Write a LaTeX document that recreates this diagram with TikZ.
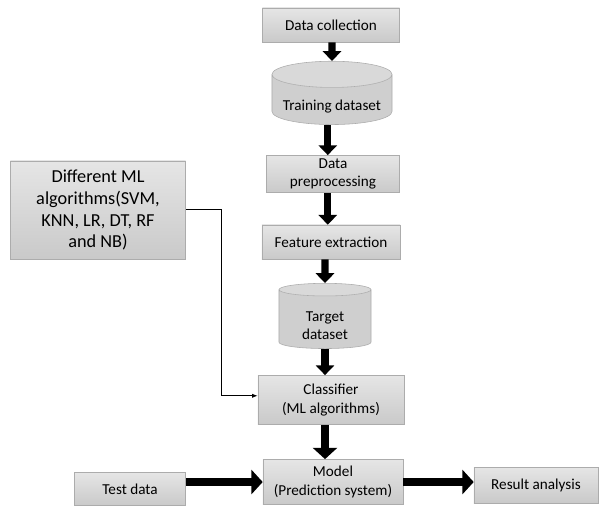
\documentclass[tikz,border=0pt]{standalone}
\usepackage{fontspec}
\setmainfont{Carlito}
\usetikzlibrary{shapes.geometric,arrows.meta}
\begin{document}
\begin{tikzpicture}[x=0.025cm,y=-0.025cm,
    box/.style={draw=gray!65,top color=gray!20,bottom color=gray!42,align=center,
      inner sep=1pt,font=\fontsize{10.8}{13}\selectfont},
    db/.style={cylinder,shape border rotate=90,aspect=0.26,draw=gray!65,
      cylinder uses custom fill,cylinder body fill=gray!38,cylinder end fill=gray!30,
      align=center,inner sep=1pt,font=\fontsize{10.8}{13}\selectfont},
    flow/.style={-{Triangle[length=7pt,width=13pt]},line width=5pt},
    wide/.style={-{Triangle[length=8pt,width=17pt]},line width=6pt}]
  \useasboundingbox (0,0) rectangle (603,506);
  \node[box,minimum width=3.43cm,minimum height=0.85cm] (collect) at (331,25) {Data collection};
  \node[db,minimum width=3cm,minimum height=1.5cm] (train) at (332,101) {\\[2pt]Training dataset};
  \node[box,minimum width=3.33cm,minimum height=0.93cm] (prep) at (333,174) {Data\\preprocessing};
  \node[box,minimum width=3.45cm,minimum height=0.85cm] (feat) at (331,242) {Feature extraction};
  \node[db,minimum width=2.3cm,minimum height=1.63cm] (target) at (325,320) {\\[2pt]Target\\dataset};
  \node[box,minimum width=3.65cm,minimum height=1.23cm] (classify) at (331,400) {Classifier\\(ML algorithms)};
  \node[box,minimum width=3.5cm,minimum height=1.13cm] (model) at (333,482) {Model\\(Prediction system)};
  \node[box,minimum width=2.78cm,minimum height=0.83cm] (test) at (130,489) {Test data};
  \node[box,minimum width=3.1cm,minimum height=0.9cm] (result) at (536,485) {Result analysis};
  \node[box,minimum width=4.38cm,minimum height=2.45cm,
    font=\fontsize{13}{15.6}\selectfont] (algos) at (98,210)
    {Different ML\\algorithms(SVM,\\KNN, LR, DT, RF\\and NB)};
  \coordinate (bend) at (221,209);
  % main flow
  \draw[flow] (collect.south -| train) -- (train.north);
  \draw[flow] ([xshift=-3pt]train.south) -- ([xshift=-3pt]prep.north -| train.south);
  \draw[flow] ([xshift=-3pt]prep.south -| train.south) -- ([xshift=-3pt]feat.north -| train.south);
  \draw[flow] (feat.south -| target) -- (target.north);
  \draw[flow] (target.south) -- (classify.north -| target.south);
  \draw[wide] (classify.south -| target.south) -- (model.north -| target.south);
  \draw[wide] (test.east |- model) -- (model);
  \draw[wide] (model) -- (result.west |- model);
  % algorithm input
  \draw[-{Latex[length=4pt,width=3pt]},line width=0.6pt]
    (algos.east |- bend) -- (bend) |- ([yshift=3pt]classify.west);
\end{tikzpicture}
\end{document}
